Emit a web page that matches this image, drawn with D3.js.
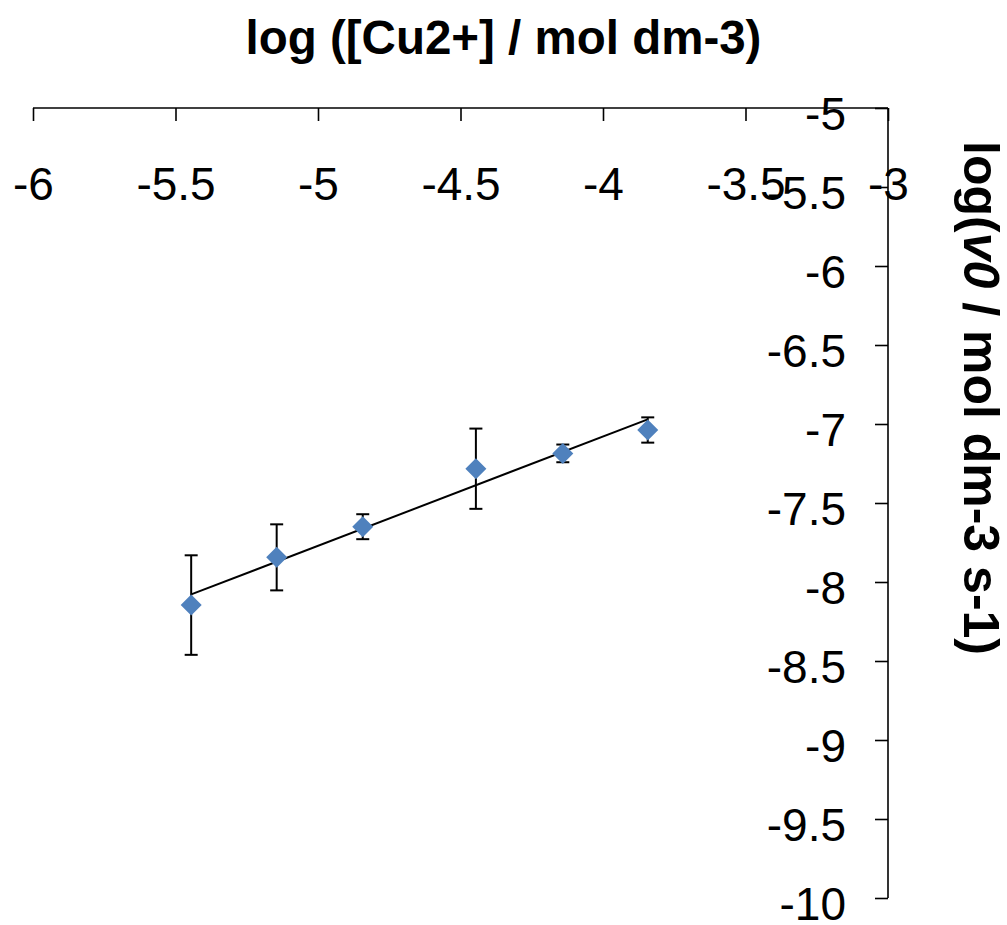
<!DOCTYPE html>
<html>
<head>
<meta charset="utf-8">
<script src="https://cdn.jsdelivr.net/npm/d3@7"></script>
<style>
  html, body { margin: 0; padding: 0; background: #fff; }
  svg { display: block; font-family: "Liberation Sans", Arial, sans-serif; }
</style>
</head>
<body>
<svg id="chart" width="1007" height="925"></svg>
<script>
// log of copper ion concentration (x) and log of initial rate (y), with error half-widths
const logCu = [-5.445, -5.145, -4.843, -4.446, -4.141, -3.843];
const logV0 = [-8.146, -7.844, -7.650, -7.283, -7.186, -7.038];
const errV0 = [0.315, 0.209, 0.079, 0.254, 0.056, 0.080];
const xTicks = [-6, -5.5, -5, -4.5, -4, -3.5, -3];
const yTicks = [-5, -5.5, -6, -6.5, -7, -7.5, -8, -8.5, -9, -9.5, -10];
const xTitle = "log ([Cu2+] / mol dm-3)";

const svg = d3.select("#chart");
const x = d3.scaleLinear().domain([-6, -3]).range([33, 888]);
const y = d3.scaleLinear().domain([-5, -10]).range([108, 898]);

const points = logCu.map((v, i) => ({ x: v, y: logV0[i], e: errV0[i] }));

// plain hyphen-minus in tick labels
const fmt = d => String(d);

// x axis along the top edge, ticks pointing into the plot, labels below
const xAxis = svg.append("g")
  .attr("transform", `translate(0,${y(-5)})`)
  .call(d3.axisBottom(x).tickValues(xTicks).tickSize(13).tickPadding(46).tickFormat(fmt));
// y axis along the right edge, ticks and labels to its left
const yAxis = svg.append("g")
  .attr("transform", `translate(${x(-3)},0)`)
  .call(d3.axisLeft(y).tickValues(yTicks).tickSize(13).tickPadding(29).tickFormat(fmt));

[xAxis, yAxis].forEach(g => {
  g.select(".domain").attr("stroke", "#000").attr("stroke-width", 1.6);
  g.selectAll(".tick line").attr("stroke", "#000").attr("stroke-width", 1.6);
  g.selectAll(".tick text").attr("fill", "#000").attr("font-size", 46)
    .attr("font-family", "'Liberation Sans', Arial, sans-serif");
});
yAxis.selectAll(".tick text").attr("dy", "0.46em");
// drop the outer end-ticks D3 adds to the domain path
xAxis.select(".domain").attr("d", `M${x(-6)},0H${x(-3)}`);
yAxis.select(".domain").attr("d", `M0,${y(-5)}V${y(-10)}`);

// least-squares trend line over the data range
const mx = d3.mean(logCu), my = d3.mean(logV0);
const sxy = d3.sum(points, p => (p.x - mx) * (p.y - my));
const sxx = d3.sum(points, p => (p.x - mx) ** 2);
const slope = sxy / sxx, icpt = my - slope * mx;
const [xmin, xmax] = d3.extent(logCu);
svg.append("path")
  .datum([xmin, xmax])
  .attr("d", d3.line().x(d => x(d)).y(d => y(icpt + slope * d)))
  .attr("stroke", "#000").attr("stroke-width", 2).attr("fill", "none");

// vertical error bars with caps
const eb = svg.append("g").attr("stroke", "#000").attr("stroke-width", 2);
points.forEach(p => {
  const cx = x(p.x);
  eb.append("line").attr("x1", cx).attr("x2", cx).attr("y1", y(p.y + p.e)).attr("y2", y(p.y - p.e));
  eb.append("line").attr("x1", cx - 6.5).attr("x2", cx + 6.5).attr("y1", y(p.y + p.e)).attr("y2", y(p.y + p.e));
  eb.append("line").attr("x1", cx - 6.5).attr("x2", cx + 6.5).attr("y1", y(p.y - p.e)).attr("y2", y(p.y - p.e));
});

// diamond markers
svg.append("g").selectAll("path").data(points).join("path")
  .attr("transform", p => `translate(${x(p.x)},${y(p.y)})`)
  .attr("d", "M0,-10.5L10.5,0L0,10.5L-10.5,0Z")
  .attr("fill", "#4F81BD");

// axis titles
svg.append("text")
  .attr("x", 503.5).attr("y", 54)
  .attr("text-anchor", "middle").attr("font-size", 47.5).attr("font-weight", "bold")
  .text(xTitle);

const yTitle = svg.append("text")
  .attr("transform", "translate(964,398) rotate(90)")
  .attr("text-anchor", "middle").attr("font-size", 50).attr("font-weight", "bold");
yTitle.append("tspan").text("log(");
yTitle.append("tspan").attr("font-style", "italic").text("v0");
yTitle.append("tspan").text(" / mol dm-3 s-1)");
</script>
</body>
</html>
